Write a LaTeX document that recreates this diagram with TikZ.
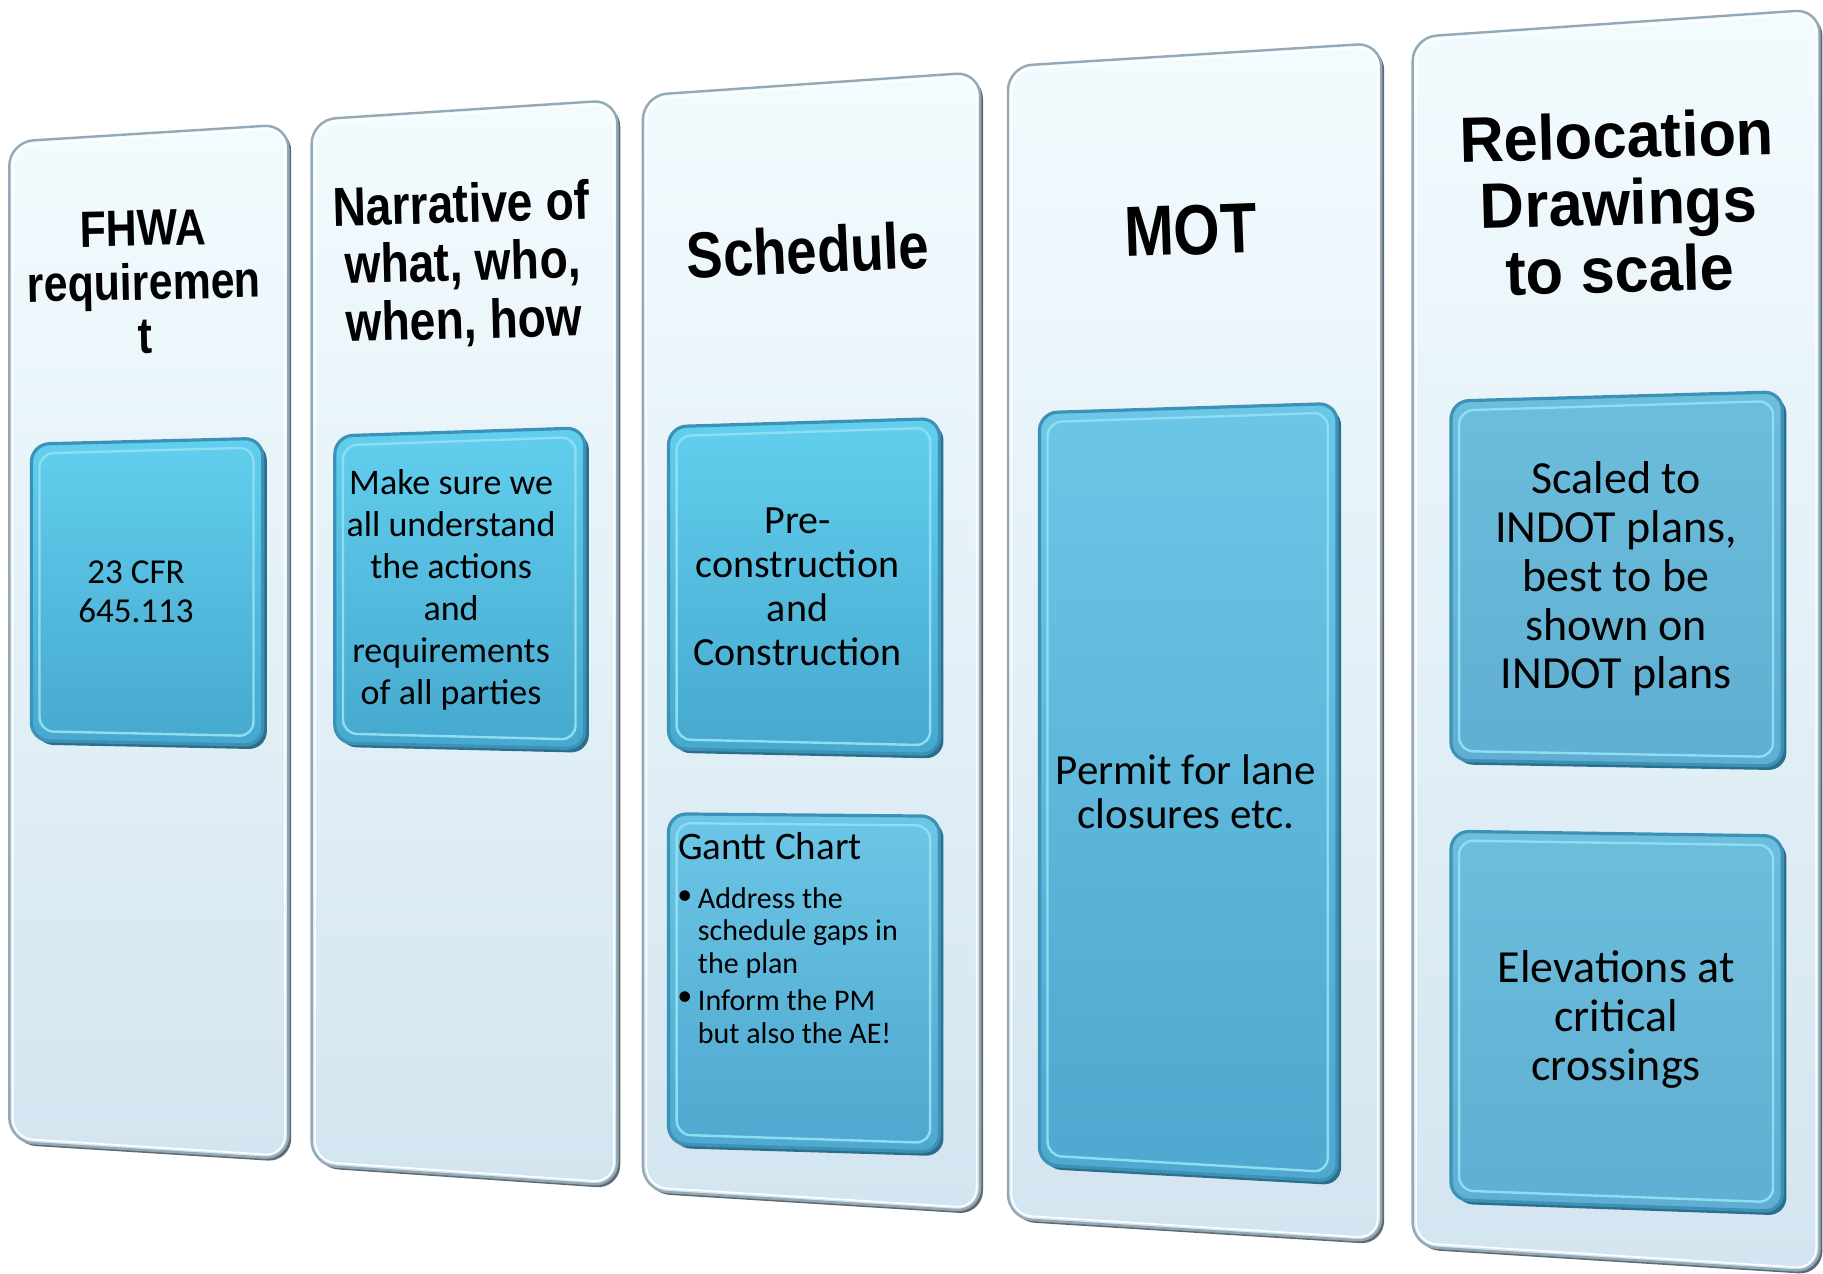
\documentclass[tikz,border=0pt]{standalone}
\usepackage{fontspec}
\usetikzlibrary{calc}
\newfontfamily\ttlfont[FakeStretch=0.84]{Liberation Sans}
\newfontfamily\ttlwide[FakeStretch=0.96]{Liberation Sans}
\newfontfamily\bodyfont{Carlito}
\definecolor{ptop}{HTML}{F3FBFE}
\definecolor{pbot}{HTML}{D3E5F0}
\definecolor{pline}{HTML}{93A9B8}
\definecolor{pshadow}{HTML}{5E6A73}
\definecolor{bedge}{HTML}{2C6F8C}
\definecolor{bline}{HTML}{3C92B6}
\definecolor{bhi}{HTML}{8FDDF3}
\definecolor{cAtop}{HTML}{62CFEE}
\definecolor{cAbot}{HTML}{46A8CE}
\definecolor{cBtop}{HTML}{6CC6E6}
\definecolor{cBbot}{HTML}{4EA8CF}
\definecolor{cCtop}{HTML}{6CBEDC}
\definecolor{cCbot}{HTML}{60AED2}
\tikzset{
  ttl/.style={font=\ttlfont\bfseries, align=center, inner sep=0pt},
  body/.style={font=\bodyfont, align=center, inner sep=0pt},
}
\newcommand\panelq[1]{%
  \fill[pshadow, rounded corners=12pt] ($(#1tl)+(2.5,2.5)$) -- ($(#1tr)+(2.5,2.5)$) -- ($(#1br)+(2.5,2.5)$) -- ($(#1bl)+(2.5,2.5)$) -- cycle;
  \shade[top color=ptop, bottom color=pbot, draw=pline, line width=1.2pt, rounded corners=12pt] (#1tl) -- (#1tr) -- (#1br) -- (#1bl) -- cycle;
  \draw[white, line width=0.8pt, rounded corners=10pt] ($(#1tl)+(3,3)$) -- ($(#1tr)+(-3,3)$) -- ($(#1br)+(-3,-3)$) -- ($(#1bl)+(3,-3)$) -- cycle;
}
\newcommand\innerbox[3]{%
  \fill[bedge, rounded corners=9pt] ($(#1tl)+(3.5,3.5)$) -- ($(#1tr)+(3.5,3.5)$) -- ($(#1br)+(3.5,3.5)$) -- ($(#1bl)+(3.5,3.5)$) -- cycle;
  \shade[top color=#2, bottom color=#3, draw=bline, line width=1.6pt, rounded corners=9pt] (#1tl) -- (#1tr) -- (#1br) -- (#1bl) -- cycle;
  \draw[bhi, line width=1.2pt, rounded corners=7pt] ($(#1tl)+(7,8)$) -- ($(#1tr)+(-8,8)$) -- ($(#1br)+(-8,-8)$) -- ($(#1bl)+(7,-8)$) -- cycle;
}
\begin{document}
\begin{tikzpicture}[x=0.5813pt, y=-0.5813pt]
\useasboundingbox (0,0) rectangle (1568,1095);
\fill[white] (0,0) rectangle (1568,1095);
% panel corners
\coordinate (p1tl) at (8,122);   \coordinate (p1tr) at (248,107);
\coordinate (p1br) at (248,997); \coordinate (p1bl) at (8,982);
\coordinate (p2tl) at (268,103); \coordinate (p2tr) at (531,86);
\coordinate (p2br) at (531,1020);\coordinate (p2bl) at (268,1002);
\coordinate (p3tl) at (553,82);  \coordinate (p3tr) at (843,62);
\coordinate (p3br) at (843,1042);\coordinate (p3bl) at (553,1024);
\coordinate (p4tl) at (867,57);  \coordinate (p4tr) at (1188,37);
\coordinate (p4br) at (1188,1068);\coordinate (p4bl) at (867,1048);
\coordinate (p5tl) at (1215,32); \coordinate (p5tr) at (1565,8);
\coordinate (p5br) at (1565,1094);\coordinate (p5bl) at (1215,1072);
% inner box corners
\coordinate (b1tl) at (27,382);  \coordinate (b1tr) at (226,377);
\coordinate (b1br) at (226,641); \coordinate (b1bl) at (27,637);
\coordinate (b2tl) at (288,375); \coordinate (b2tr) at (503,368);
\coordinate (b2br) at (503,644); \coordinate (b2bl) at (288,639);
\coordinate (b3tl) at (575,367); \coordinate (b3tr) at (808,360);
\coordinate (b3br) at (808,649); \coordinate (b3bl) at (575,644);
\coordinate (b4tl) at (575,700); \coordinate (b4tr) at (808,702);
\coordinate (b4br) at (808,991); \coordinate (b4bl) at (575,984);
\coordinate (b5tl) at (894,355); \coordinate (b5tr) at (1150,347);
\coordinate (b5br) at (1150,1016);\coordinate (b5bl) at (894,1002);
\coordinate (b6tl) at (1248,345);\coordinate (b6tr) at (1533,337);
\coordinate (b6br) at (1533,659);\coordinate (b6bl) at (1248,654);
\coordinate (b7tl) at (1248,715);\coordinate (b7tr) at (1533,719);
\coordinate (b7br) at (1533,1042);\coordinate (b7bl) at (1248,1032);
% panels
\panelq{p1}\panelq{p2}\panelq{p3}\panelq{p4}\panelq{p5}
% boxes
\innerbox{b1}{cAtop}{cAbot}
\innerbox{b2}{cAtop}{cAbot}
\innerbox{b3}{cAtop}{cAbot}
\innerbox{b4}{cBtop}{cBbot}
\innerbox{b5}{cBtop}{cBbot}
\innerbox{b6}{cCtop}{cCbot}
\innerbox{b7}{cCtop}{cCbot}
% titles
\node[ttl, font=\ttlfont\bfseries\fontsize{25.5}{27}\selectfont, rotate=1.2] (t1) at (124,243) {FHWA\\requiremen\\t};
\node[ttl, font=\ttlfont\bfseries\fontsize{27.5}{29}\selectfont, rotate=1.5] (t2) at (398,228) {Narrative of\\what, who,\\when, how};
\node[ttl, font=\ttlfont\bfseries\fontsize{32.5}{32}\selectfont, rotate=2.5] (t3) at (695,215) {Schedule};
\node[ttl, font=\ttlfont\bfseries\fontsize{35.5}{35}\selectfont, rotate=2] (t4) at (1024,198) {MOT};
\node[ttl, font=\ttlwide\bfseries\fontsize{32}{33.5}\selectfont, rotate=1.5] (t5) at (1392,174) {Relocation\\Drawings\\to scale};
% body texts
\node[body, font=\bodyfont\fontsize{17.5}{19.5}\selectfont] (x1) at (117,509) {23 CFR\\645.113};
\node[body, font=\bodyfont\fontsize{18}{21}\selectfont] (x2) at (388,507) {Make sure we\\all understand\\the actions\\and\\requirements\\of all parties};
\node[body, font=\bodyfont\fontsize{20}{22}\selectfont] (x3) at (686,505) {Pre-\\construction\\and\\Construction};
\node[body, font=\bodyfont\fontsize{19.5}{20}\selectfont, anchor=west] (x4) at (583,728) {Gantt Chart};
\node[body, font=\bodyfont\fontsize{15}{15}\selectfont] (bl1) at (589,772) {•};
\node[body, font=\bodyfont\fontsize{15}{16.3}\selectfont, align=left, anchor=north west] (x5) at (600,763) {Address the\\schedule gaps in\\the plan};
\node[body, font=\bodyfont\fontsize{15}{15}\selectfont] (bl2) at (589,859) {•};
\node[body, font=\bodyfont\fontsize{15}{16.3}\selectfont, align=left, anchor=north west] (x6) at (600,851) {Inform the PM\\but also the AE!};
\node[body, font=\bodyfont\fontsize{21.5}{22}\selectfont] (x7) at (1020,681) {Permit for lane\\closures etc.};
\node[body, font=\bodyfont\fontsize{23}{24.4}\selectfont] (x8) at (1390,498) {Scaled to\\INDOT plans,\\best to be\\shown on\\INDOT plans};
\node[body, font=\bodyfont\fontsize{23}{24.4}\selectfont] (x9) at (1390,877) {Elevations at\\critical\\crossings};
\end{tikzpicture}
\end{document}
